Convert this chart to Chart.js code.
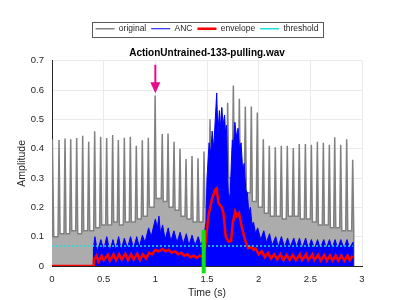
<!DOCTYPE html>
<html>
<head>
<meta charset="utf-8">
<script src="https://cdn.jsdelivr.net/npm/chart.js@4.4.1/dist/chart.umd.min.js"></script>
<style>
  html, body { margin: 0; background: #fff; }
</style>
</head>
<body>
<canvas id="c" width="400" height="300"></canvas>
<script>
// ActionUntrained-133-pulling.wav: raw signal, ANC output, envelope, threshold.
const FONT = "'Liberation Sans', Arial, sans-serif";
const INK = '#262626';

// original signal: one spike per period (time, peak) plus the noise floor between spikes
const spikeT = [0.007, 0.068, 0.126, 0.181, 0.239, 0.297, 0.355, 0.413, 0.471, 0.529,
  0.587, 0.642, 0.700, 0.758, 0.816, 0.874, 0.932, 0.998, 1.067,
  1.123, 1.181, 1.239, 1.297, 1.355, 1.413, 1.471, 1.529, 1.594, 1.642,
  1.700, 1.755, 1.813, 1.871, 1.929, 1.987, 2.045, 2.103, 2.161, 2.219,
  2.277, 2.335, 2.393, 2.452, 2.510, 2.568, 2.626, 2.684, 2.736, 2.794,
  2.852, 2.910];
const spikePeak = [0.432, 0.43, 0.435, 0.432, 0.436, 0.444, 0.424, 0.459, 0.441, 0.436,
  0.447, 0.43, 0.437, 0.441, 0.41, 0.429, 0.437, 0.581, 0.45, 0.452,
  0.424, 0.40, 0.365, 0.375, 0.367, 0.39, 0.50, 0.53, 0.54, 0.557,
  0.615, 0.57, 0.544, 0.544, 0.523, 0.432, 0.41, 0.405, 0.41, 0.41,
  0.402, 0.416, 0.416, 0.413, 0.424, 0.42, 0.413, 0.439, 0.413, 0.432,
  0.362];
const origFloor = [0.10, 0.11, 0.11, 0.12, 0.11, 0.12, 0.12, 0.13, 0.14, 0.14,
  0.15, 0.14, 0.15, 0.15, 0.16, 0.17, 0.2, 0.23, 0.22, 0.2,
  0.19, 0.17, 0.16, 0.15, 0.15, 0.2, 0.3, 0.32, 0.3, 0.3,
  0.3, 0.28, 0.25, 0.22, 0.2, 0.18, 0.17, 0.17, 0.16, 0.17,
  0.17, 0.16, 0.16, 0.15, 0.14, 0.14, 0.13, 0.13, 0.12, 0.12];

// ANC output
const ancT = [0, 0.40, 0.401, 0.415, 0.44, 0.473, 0.50, 0.53, 0.56, 0.59,
  0.615, 0.645, 0.67, 0.70, 0.73, 0.76, 0.79, 0.82, 0.845, 0.875,
  0.90, 0.935, 0.96, 1.0, 1.02, 1.035, 1.05, 1.07, 1.095, 1.125,
  1.15, 1.18, 1.21, 1.24, 1.27, 1.30, 1.325, 1.355, 1.385, 1.415,
  1.44, 1.47, 1.49, 1.50, 1.52, 1.535, 1.55, 1.565, 1.58, 1.594,
  1.605, 1.62, 1.63, 1.643, 1.655, 1.67, 1.68, 1.69, 1.70, 1.71,
  1.725, 1.735, 1.745, 1.755, 1.77, 1.785, 1.80, 1.815, 1.83, 1.845,
  1.86, 1.875, 1.89, 1.905, 1.92, 1.935, 1.95, 1.97, 1.99, 2.02,
  2.05, 2.075, 2.105, 2.13, 2.165, 2.19, 2.22, 2.25, 2.28, 2.305,
  2.34, 2.365, 2.395, 2.42, 2.455, 2.48, 2.51, 2.54, 2.57, 2.595,
  2.63, 2.655, 2.685, 2.71, 2.74, 2.765, 2.795, 2.825, 2.855, 2.88,
  2.91, 2.912];
const ancV = [0, 0, 0.06, 0.1, 0.05, 0.09, 0.055, 0.1, 0.05, 0.09,
  0.055, 0.1, 0.055, 0.095, 0.06, 0.1, 0.06, 0.1, 0.065, 0.105,
  0.08, 0.13, 0.1, 0.16, 0.13, 0.17, 0.11, 0.14, 0.09, 0.13,
  0.085, 0.12, 0.08, 0.115, 0.075, 0.11, 0.07, 0.105, 0.07, 0.1,
  0.07, 0.1, 0.15, 0.30, 0.42, 0.38, 0.46, 0.40, 0.50, 0.59,
  0.45, 0.53, 0.47, 0.54, 0.48, 0.515, 0.45, 0.48, 0.30, 0.22,
  0.25, 0.35, 0.43, 0.40, 0.49, 0.44, 0.47, 0.40, 0.42, 0.33,
  0.35, 0.26, 0.25, 0.18, 0.2, 0.14, 0.15, 0.11, 0.13, 0.09,
  0.12, 0.08, 0.11, 0.07, 0.1, 0.065, 0.1, 0.065, 0.095, 0.065,
  0.095, 0.065, 0.095, 0.06, 0.095, 0.06, 0.09, 0.06, 0.09, 0.06,
  0.09, 0.06, 0.09, 0.06, 0.09, 0.06, 0.09, 0.06, 0.09, 0.06,
  0.08, 0];

// envelope of the ANC output
const envT = [0, 0.40, 0.405, 0.43, 0.45, 0.48, 0.50, 0.54, 0.56, 0.595,
  0.62, 0.65, 0.675, 0.71, 0.735, 0.765, 0.79, 0.825, 0.85, 0.88,
  0.91, 0.94, 0.97, 1.0, 1.03, 1.07, 1.10, 1.13, 1.16, 1.19,
  1.22, 1.25, 1.28, 1.31, 1.34, 1.37, 1.40, 1.43, 1.46, 1.48,
  1.513, 1.546, 1.578, 1.594, 1.61, 1.643, 1.659, 1.681, 1.707, 1.733,
  1.749, 1.772, 1.788, 1.81, 1.836, 1.868, 1.90, 1.93, 1.95, 1.97,
  2.0, 2.03, 2.06, 2.09, 2.12, 2.15, 2.18, 2.21, 2.24, 2.27,
  2.30, 2.33, 2.36, 2.40, 2.42, 2.46, 2.48, 2.52, 2.54, 2.575,
  2.60, 2.635, 2.66, 2.69, 2.715, 2.745, 2.77, 2.80, 2.83, 2.86,
  2.88, 2.91];
const envV = [0, 0, 0.02, 0.035, 0.015, 0.035, 0.02, 0.038, 0.018, 0.04,
  0.02, 0.04, 0.022, 0.042, 0.02, 0.04, 0.022, 0.042, 0.02, 0.04,
  0.025, 0.045, 0.04, 0.055, 0.05, 0.058, 0.05, 0.055, 0.045, 0.05,
  0.04, 0.045, 0.035, 0.04, 0.03, 0.035, 0.028, 0.035, 0.03, 0.06,
  0.17, 0.225, 0.26, 0.265, 0.215, 0.20, 0.18, 0.10, 0.083, 0.085,
  0.146, 0.185, 0.17, 0.18, 0.134, 0.089, 0.06, 0.065, 0.055, 0.06,
  0.04, 0.05, 0.03, 0.045, 0.025, 0.04, 0.022, 0.04, 0.02, 0.038,
  0.02, 0.038, 0.02, 0.04, 0.02, 0.04, 0.02, 0.04, 0.02, 0.038,
  0.018, 0.038, 0.018, 0.036, 0.018, 0.036, 0.018, 0.036, 0.018, 0.036,
  0.02, 0.035];

const thrT = [0, 2.91];
const thrV = [0.068, 0.068];

// annotations: detection marker (green) and arrow (magenta)
const markT = 1.468, markLo = -0.025, markHi = 0.123;
const arrowT = 1.0, arrowTail = 0.686, arrowTip = 0.589;

const xTicks = [0, 0.5, 1, 1.5, 2, 2.5, 3];
const yTicks = [0, 0.1, 0.2, 0.3, 0.4, 0.5, 0.6, 0.7];

const SPIKE_HALF = 0.01;
const origPts = [{ x: 0, y: origFloor[0] }];
spikeT.forEach((t, i) => {
  const l = origFloor[Math.max(i - 1, 0)];
  const r = origFloor[Math.min(i, origFloor.length - 1)];
  origPts.push({ x: Math.max(0, t - SPIKE_HALF), y: l }, { x: t, y: spikePeak[i] }, { x: t + SPIKE_HALF, y: r });
});
origPts.push({ x: spikeT[spikeT.length - 1] + SPIKE_HALF, y: 0 });

const zip = (xs, ys) => xs.map((x, i) => ({ x, y: ys[i] }));
const num = v => String(Math.round(v * 100) / 100);

const legendBox = {
  id: 'legendBox',
  afterDraw(chart) {
    const hb = chart.legend && chart.legend.legendHitBoxes;
    if (!hb || !hb.length) return;
    const first = hb[0], last = hb[hb.length - 1];
    const ctx = chart.ctx;
    ctx.save();
    ctx.strokeStyle = '#5a5a5a';
    ctx.lineWidth = 1;
    ctx.strokeRect(Math.round(first.left - 4) + 0.5, Math.round(first.top - 3) + 0.5,
      Math.round(last.left + last.width - first.left + 8), Math.round(first.height + 6));
    ctx.restore();
  }
};

const marks = {
  id: 'marks',
  afterDatasetsDraw(chart) {
    const { ctx, scales: { x, y } } = chart;
    ctx.save();
    // green marker
    ctx.strokeStyle = '#11e011';
    ctx.lineWidth = 4;
    ctx.beginPath();
    ctx.moveTo(x.getPixelForValue(markT), y.getPixelForValue(markLo));
    ctx.lineTo(x.getPixelForValue(markT), y.getPixelForValue(markHi));
    ctx.stroke();
    // arrow
    const ax = x.getPixelForValue(arrowT);
    const tail = y.getPixelForValue(arrowTail), tip = y.getPixelForValue(arrowTip);
    ctx.strokeStyle = ctx.fillStyle = '#ea0a8c';
    ctx.lineWidth = 2;
    ctx.beginPath();
    ctx.moveTo(ax, tail);
    ctx.lineTo(ax, tip - 10);
    ctx.stroke();
    ctx.beginPath();
    ctx.moveTo(ax - 5, tip - 11);
    ctx.lineTo(ax + 5, tip - 11);
    ctx.lineTo(ax, tip);
    ctx.closePath();
    ctx.fill();
    ctx.restore();
  }
};

const axisBase = {
  type: 'linear',
  grid: { color: '#ebebeb', drawTicks: false },
  border: { color: INK, width: 1 },
  ticks: { color: INK, font: { family: FONT, size: 9.5 }, padding: 8, maxRotation: 0, callback: num },
};

new Chart(document.getElementById('c'), {
  type: 'line',
  data: {
    datasets: [
      { label: 'original', data: origPts, borderColor: '#808080', backgroundColor: '#acacac',
        borderWidth: 1.5, fill: 'origin', order: 4 },
      { label: 'ANC', data: zip(ancT, ancV), borderColor: '#0000ff', backgroundColor: '#0000ff',
        borderWidth: 1, fill: 'origin', order: 3 },
      { label: 'envelope', data: zip(envT, envV), borderColor: '#ff0000', backgroundColor: '#ff0000',
        borderWidth: 2.5, fill: false, order: 2 },
      { label: 'threshold', data: zip(thrT, thrV), borderColor: '#1fdede', backgroundColor: '#1fdede',
        borderWidth: 1.5, borderDash: [2, 2], fill: false, order: 1 },
    ]
  },
  options: {
    responsive: false,
    animation: false,
    events: [],
    elements: { point: { radius: 0 }, line: { tension: 0 } },
    layout: { padding: { left: 12, right: 38, top: 19.5, bottom: 0 } },
    scales: {
      x: {
        ...axisBase,
        min: 0, max: 3,
        afterBuildTicks: s => { s.ticks = xTicks.map(value => ({ value })); },
        afterFit: s => { s.height = 34; },
        title: { display: true, text: 'Time (s)', color: INK, font: { family: FONT, size: 10.5 },
          padding: { top: 0, bottom: 1 } },
      },
      y: {
        ...axisBase,
        min: 0, max: 0.7,
        afterBuildTicks: s => { s.ticks = yTicks.map(value => ({ value })); },
        afterFit: s => { s.width = 40; },
        title: { display: true, text: 'Amplitude', color: INK, font: { family: FONT, size: 10.5 },
          padding: { top: 4, bottom: 0 } },
      },
    },
    plugins: {
      legend: {
        position: 'top', fullSize: false, weight: 3000,
        labels: {
          usePointStyle: true, pointStyle: 'line', pointStyleWidth: 19, padding: 5,
          color: INK, font: { family: FONT, size: 8.5 },
          sort: (a, b) => a.datasetIndex - b.datasetIndex,
        },
      },
      title: {
        display: true, fullSize: false, text: 'ActionUntrained-133-pulling.wav',
        color: '#000', font: { family: FONT, size: 10, weight: 'bold' },
        padding: { top: 4, bottom: 1.7 },
      },
      tooltip: { enabled: false },
    },
  },
  plugins: [legendBox, marks],
});
</script>
</body>
</html>
